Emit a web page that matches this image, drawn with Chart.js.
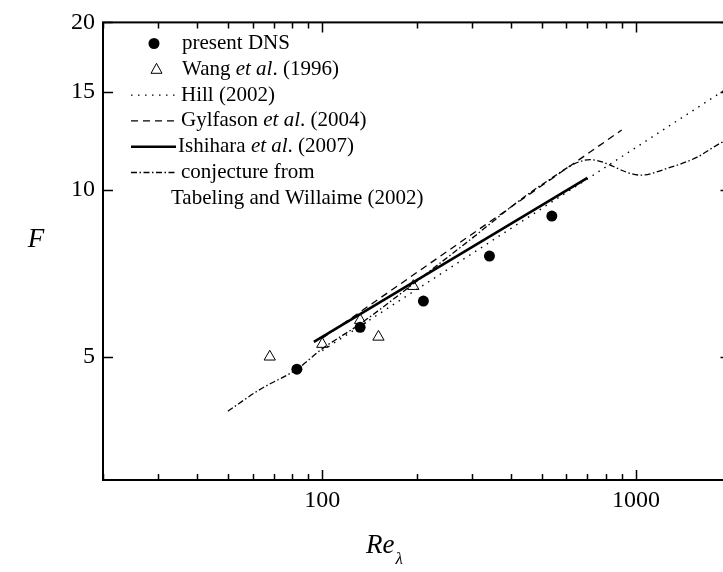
<!DOCTYPE html>
<html>
<head>
<meta charset="utf-8">
<script src="https://cdn.jsdelivr.net/npm/chart.js@4.4.1/dist/chart.umd.min.js"></script>
<style>
  html, body { margin: 0; padding: 0; background: #fff; overflow: hidden; }
  canvas { display: block; }
</style>
</head>
<body>
<canvas id="fChart" width="745" height="572"></canvas>
<script>
// present DNS
const dnsRe = [83, 132, 210, 341, 539];
const dnsF = [4.75, 5.65, 6.30, 7.59, 8.96];
// Wang et al. (1996)
const wangRe = [68, 100, 132, 151, 195];
const wangF = [5.00, 5.27, 5.82, 5.43, 6.70];
// Hill (2002)
const hillRe = [100, 2000];
const hillF = [5.13, 15.35];
// Gylfason et al. (2004)
const gylfRe = [100, 900];
const gylfF = [5.40, 12.8];
// Ishihara et al. (2007)
const ishiRe = [94, 700];
const ishiF = [5.32, 10.5];
// conjecture from Tabeling and Willaime (2002)
const tabRe = [50, 63, 83, 100, 132, 196, 281, 513, 714, 1033, 1283, 1561, 1875, 2000];
const tabF = [3.99, 4.36, 4.75, 5.17, 5.73, 6.78, 7.94, 10.3, 11.32, 10.62, 10.96, 11.43, 12.16, 12.34];

// axis ticks
const xTicks = [20, 30, 40, 50, 60, 70, 80, 90, 100, 200, 300, 400, 500, 600, 700, 800, 900, 1000, 2000];
const xLabels = [100, 1000];
const yTicks = [5, 10, 15, 20];

const SERIF = '"Liberation Serif", "Times New Roman", serif';

function pts(xs, ys) {
    return xs.map((x, i) => ({ x: x, y: ys[i] }));
}

// legend rows: [kind, text parts]  (parts: [text, italic])
const legendRows = [
    ['dot', [['present DNS', false]]],
    ['tri', [['Wang ', false], ['et al', true], ['. (1996)', false]]],
    ['dotted', [['Hill (2002)', false]]],
    ['dashed', [['Gylfason ', false], ['et al', true], ['. (2004)', false]]],
    ['solid', [['Ishihara ', false], ['et al', true], ['. (2007)', false]]],
    ['dashdot', [['conjecture from', false]]],
    ['none', [['Tabeling and Willaime (2002)', false]]]
];

const dashes = {
    dotted: [1.5, 5.5],
    dashed: [7, 5],
    solid: [],
    dashdot: [6, 2.5, 1.5, 2.5]
};

// =====================
// frame, inward ticks, legend and axis titles
// =====================
const decorations = {
    id: 'decorations',
    afterDraw(chart) {
        const ctx = chart.ctx;
        const a = chart.chartArea;
        const xs = chart.scales.x;
        const ys = chart.scales.y;

        ctx.save();
        ctx.strokeStyle = '#000';
        ctx.lineWidth = 2;
        ctx.strokeRect(a.left, a.top, a.right - a.left, a.bottom - a.top);

        ctx.lineWidth = 1.5;
        ctx.beginPath();
        xTicks.forEach(v => {
            const px = Math.round(xs.getPixelForValue(v)) + 0.5;
            const len = xLabels.includes(v) ? 10 : 6;
            ctx.moveTo(px, a.bottom); ctx.lineTo(px, a.bottom - len);
            ctx.moveTo(px, a.top); ctx.lineTo(px, a.top + len);
        });
        yTicks.forEach(v => {
            const py = Math.round(ys.getPixelForValue(v)) + 0.5;
            ctx.moveTo(a.left, py); ctx.lineTo(a.left + 10, py);
            ctx.moveTo(a.right, py); ctx.lineTo(a.right - 10, py);
        });
        ctx.stroke();

        // legend
        const rowY0 = 43.5, rowGap = 25.8;
        ctx.fillStyle = '#000';
        ctx.textBaseline = 'middle';
        legendRows.forEach((row, i) => {
            const y = rowY0 + i * rowGap;
            const kind = row[0];
            let tx = 182;
            if (kind === 'dot') {
                ctx.beginPath();
                ctx.arc(154, y, 5.5, 0, Math.PI * 2);
                ctx.fill();
            } else if (kind === 'tri') {
                ctx.lineWidth = 1;
                ctx.setLineDash([]);
                ctx.beginPath();
                ctx.moveTo(156.5, y - 6);
                ctx.lineTo(162, y + 4);
                ctx.lineTo(151, y + 4);
                ctx.closePath();
                ctx.stroke();
            } else if (kind === 'none') {
                tx = 171;
            } else {
                ctx.lineWidth = kind === 'solid' ? 2.6 : 1.3;
                ctx.setLineDash(dashes[kind]);
                ctx.beginPath();
                ctx.moveTo(131, y);
                ctx.lineTo(176, y);
                ctx.stroke();
                ctx.setLineDash([]);
                tx = kind === 'solid' ? 178 : 181;
            }
            row[1].forEach(part => {
                ctx.font = (part[1] ? 'italic ' : '') + '21px ' + SERIF;
                ctx.textAlign = 'left';
                ctx.fillText(part[0], tx, y);
                tx += ctx.measureText(part[0]).width;
            });
        });

        // axis titles
        ctx.font = 'italic 27px ' + SERIF;
        ctx.textAlign = 'center';
        ctx.fillText('F', 36, 240);
        ctx.textAlign = 'left';
        ctx.fillText('Re', 366, 546);
        const reW = ctx.measureText('Re').width;
        ctx.font = 'italic 17px ' + SERIF;
        ctx.fillText('\u03bb', 366 + reW + 1, 560);
        ctx.restore();
    }
};

const lineStyle = (data, dash, width) => ({
    type: 'scatter',
    data: data,
    showLine: true,
    borderColor: '#000',
    borderWidth: width,
    borderDash: dash,
    pointRadius: 0,
    fill: false
});

const tabSet = lineStyle(pts(tabRe, tabF), dashes.dashdot, 1.3);
tabSet.cubicInterpolationMode = 'monotone';

new Chart(document.getElementById('fChart'), {
    type: 'scatter',
    data: {
        datasets: [
            lineStyle(pts(hillRe, hillF), dashes.dotted, 1.4),
            lineStyle(pts(gylfRe, gylfF), dashes.dashed, 1.3),
            lineStyle(pts(ishiRe, ishiF), dashes.solid, 2.6),
            tabSet,
            {
                data: pts(dnsRe, dnsF),
                pointStyle: 'circle',
                pointRadius: 5.5,
                backgroundColor: '#000',
                borderColor: '#000',
                borderWidth: 0
            },
            {
                data: pts(wangRe, wangF),
                pointStyle: 'triangle',
                pointRadius: 6.5,
                backgroundColor: 'rgba(0,0,0,0)',
                borderColor: '#000',
                borderWidth: 1
            }
        ]
    },
    options: {
        responsive: false,
        animation: false,
        devicePixelRatio: 1,
        layout: { padding: { left: 0, top: 19.5, right: 14.5, bottom: 0 } },
        plugins: {
            legend: { display: false },
            tooltip: { enabled: false }
        },
        scales: {
            x: {
                type: 'logarithmic',
                min: 20,
                max: 2000,
                grid: { display: false, drawTicks: false },
                border: { display: false },
                afterBuildTicks: s => { s.ticks = xTicks.map(v => ({ value: v })); },
                afterFit: s => { s.height = 92; },
                ticks: {
                    autoSkip: false,
                    maxRotation: 0,
                    padding: 6,
                    color: '#000',
                    font: { family: SERIF, size: 24 },
                    callback: v => xLabels.includes(v) ? String(v) : ''
                }
            },
            y: {
                type: 'logarithmic',
                min: 3,
                max: 20,
                grid: { display: false, drawTicks: false },
                border: { display: false },
                afterBuildTicks: s => { s.ticks = yTicks.map(v => ({ value: v })); },
                afterFit: s => { s.width = 103; },
                ticks: {
                    autoSkip: false,
                    padding: 8,
                    color: '#000',
                    font: { family: SERIF, size: 24 },
                    callback: v => String(v)
                }
            }
        }
    },
    plugins: [decorations]
});
</script>
</body>
</html>
